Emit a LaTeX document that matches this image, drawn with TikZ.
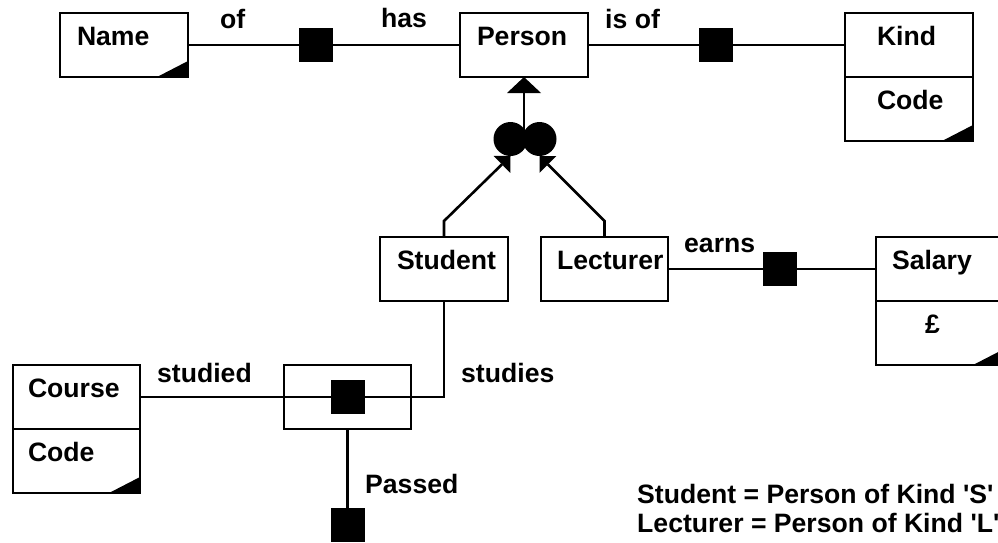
\documentclass[tikz,border=0pt]{standalone}
\usepackage{fontspec}
\setmainfont{Liberation Sans}[Ligatures=TeXOff]
\usetikzlibrary{arrows.meta}
\begin{document}
\begin{tikzpicture}[x=1pt,y=-1pt,
  every node/.style={font=\bfseries\fontsize{26.6}{30}\selectfont},
  box/.style={draw, line width=2.8pt, outer sep=0pt, inner ysep=0pt,
    text height=32pt, text depth=32pt, align=left, anchor=north west},
  conn/.style={line width=2.6pt},
  sq/.style={fill, minimum size=34pt, inner sep=0pt, outer sep=0pt},
  blob/.style={circle, fill, minimum size=34pt, inner sep=0pt, outer sep=0pt},
  rel/.style={anchor=base west, inner sep=0pt},
  isa/.style={conn, -{Triangle[length=12pt,width=24pt,line width=0pt]}}
]
\useasboundingbox (0,0) rectangle (998,542);
\clip (0,0) rectangle (998,542);

% entity boxes
\node[box, inner xsep=17pt, text width=94pt] (name) at (60,13) {Name};
\node[box, inner xsep=17pt, text width=94pt] (person) at (460,13) {Person};
\node[box, inner xsep=32pt, text width=64pt] (kind) at (845,13) {Kind};
\node[box, inner xsep=32pt, text width=64pt] (kindcode) at (kind.south west) {Code};
\node[box, inner xsep=17pt, text width=94pt] (student) at (380,237) {Student};
\node[box, inner xsep=16pt, text width=95pt] (lecturer) at (541,237) {Lecturer};
\node[box, inner xsep=16pt, text width=96pt] (salary) at (876,237) {Salary};
\node[box, inner xsep=49pt, text width=30pt] (salaryunit) at (salary.south west) {£};
\node[box, inner xsep=15pt, text width=97pt] (course) at (13,365) {Course};
\node[box, inner xsep=15pt, text width=97pt] (coursecode) at (course.south west) {Code};
\node[draw, line width=2.8pt, outer sep=0pt, minimum width=127pt, minimum height=64pt,
  inner sep=0pt, anchor=north west] (studyrel) at (284,365) {};

% corner wedges of the value boxes
\fill (name.south east) -- ++(-31,0) -- ++(31,-16) -- cycle;
\fill (kindcode.south east) -- ++(-31,0) -- ++(31,-16) -- cycle;
\fill (salaryunit.south east) -- ++(-31,0) -- ++(31,-16) -- cycle;
\fill (coursecode.south east) -- ++(-31,0) -- ++(31,-16) -- cycle;

% relationship squares
\node[sq] (ofsq) at (316,45) {};
\node[sq] (kindsq) at (716,45) {};
\node[sq] (earnsq) at (780,269) {};
\node[sq] (studysq) at (studyrel.center) {};
\node[sq] (passsq) at (347.5,525) {};

% connectors
\draw[conn] (name.east) -- (ofsq.west);
\draw[conn] (ofsq.east) -- (person.west);
\draw[conn] (person.east) -- (kindsq.west);
\draw[conn] (kindsq.east) -- (kind.west);
\draw[conn] (lecturer.east) -- (earnsq.west);
\draw[conn] (earnsq.east) -- (salary.west);
\draw[conn] (course.east) -- (studysq.west);
\draw[conn] (studysq.east) -| (student.south);
\draw[conn] (studyrel.south) -- (passsq.north);

% generalisation
\node[blob] (gl) at (510.5,139) {};
\node[blob] (gr) at (539.5,139) {};
\coordinate (gen) at (person.south |- gl.center);
\draw[conn, -{Triangle[length=16pt,width=34pt,line width=0pt]}] (gen) -- (person.south);
\draw[isa] (student.north) -- ++(0,-16) -- (gl.south);
\draw[isa] (lecturer.north) -- ++(0,-16) -- (gr.south);

% role labels
\node[rel] (lof) at (220,28) {of};
\node[rel] (lhas) at (381,27) {has};
\node[rel] (lisof) at (605,28) {is of};
\node[rel] (learns) at (684,252) {earns};
\node[rel] (lstudied) at (157,382) {studied};
\node[rel] (lstudies) at (461,382) {studies};
\node[rel] (lpassed) at (365,493) {Passed};

% notes
\node[rel] (note1) at (637,503) {Student = Person of Kind 'S'};
\node[rel] (note2) at (637,532) {Lecturer = Person of Kind 'L'};
\end{tikzpicture}
\end{document}
